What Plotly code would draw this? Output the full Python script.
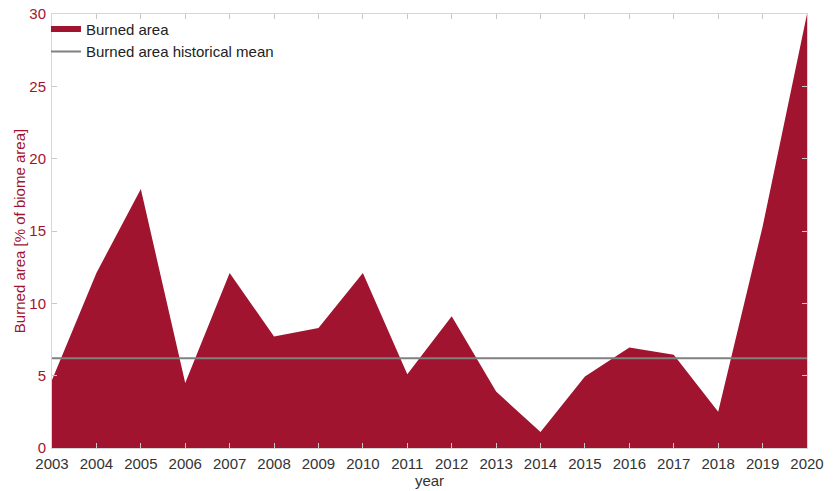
import plotly.graph_objects as go

years = list(range(2003, 2021))
burned_area = [4.7, 12.1, 17.9, 4.5, 12.1, 7.7, 8.3, 12.1, 5.1, 9.1, 3.9, 1.1, 4.95, 6.95, 6.45, 2.5, 15.3, 30.0]
historical_mean = 6.2
y_ticks = [0, 5, 10, 15, 20, 25, 30]

RED = "#a01430"
FONT = "Liberation Sans, Arial, sans-serif"

fig = go.Figure()
fig.add_trace(go.Scatter(
    x=years, y=burned_area, mode="none", fill="tozeroy",
    fillcolor=RED, name="Burned area", showlegend=True,
))
fig.add_trace(go.Scatter(
    x=[years[0], years[-1]], y=[historical_mean, historical_mean],
    mode="lines", line=dict(color="#808080", width=2),
    name="Burned area historical mean",
))

fig.update_layout(
    width=837, height=491,
    margin=dict(l=52, r=30, t=14, b=43, autoexpand=False),
    paper_bgcolor="white", plot_bgcolor="white",
    font=dict(family=FONT, size=15, color="#222"),
    legend=dict(x=-0.008, y=1.003, xanchor="left", yanchor="top",
                bgcolor="rgba(0,0,0,0)", font=dict(size=15, color="#222"),
                tracegroupgap=0, itemwidth=30),
    xaxis=dict(
        range=[2003, 2020], tickmode="array", tickvals=years,
        ticktext=[str(y) for y in years],
        showgrid=False, zeroline=False, automargin=False,
        showline=True, linecolor="#d6d6d6", linewidth=1, mirror="ticks",
        ticks="inside", ticklen=5, tickcolor="#c8c8c8",
        ticklabelstandoff=2,
        tickfont=dict(size=15, color="#333"),
        title=dict(text="year", font=dict(size=15, color="#333"), standoff=0),
    ),
    yaxis=dict(
        range=[0, 30], tickmode="array", tickvals=y_ticks,
        showgrid=False, zeroline=False, automargin=False,
        showline=True, linecolor="#d6d6d6", linewidth=1, mirror="ticks",
        ticks="inside", ticklen=5, tickcolor="#c8c8c8",
        ticklabelstandoff=2,
        tickfont=dict(size=15, color=RED),
        title=dict(text="Burned area [% of biome area]", font=dict(size=15, color=RED), standoff=0),
    ),
)

fig.write_html("out.html")
